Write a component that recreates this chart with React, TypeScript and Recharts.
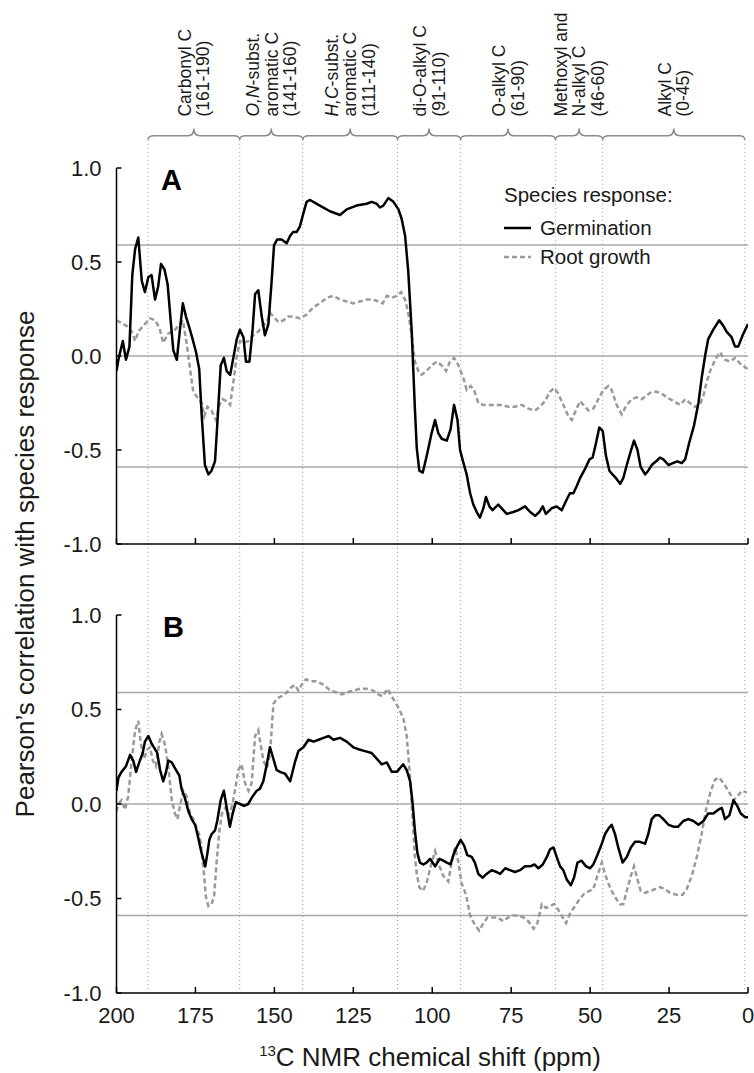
import React from 'react';
import { LineChart, Line, XAxis, YAxis, ReferenceLine, ReferenceArea } from 'recharts';

// [chemical shift (ppm), Pearson's r]
type Pt = [number, number];

// Panel A – germination
const germinationA: Pt[] = [
  [200, -0.08], [199.4, -0.02], [198, 0.08], [197, -0.02], [195.9, 0.05], [195, 0.43], [194.1, 0.57], [193.1, 0.63],
  [192, 0.4], [191, 0.34], [189.9, 0.42], [188.9, 0.43], [187.8, 0.3], [186.8, 0.37], [185.9, 0.49], [184.8, 0.46],
  [183.8, 0.38], [182.8, 0.18], [182, 0.03], [180.9, -0.02], [179.9, 0.14], [179, 0.28], [178, 0.21], [176.9, 0.15],
  [175.9, 0.09], [174.8, 0.02], [173.8, -0.07], [173, -0.32], [172, -0.58], [170.9, -0.63], [169.9, -0.61], [168.8, -0.56],
  [168.1, -0.37], [167, -0.05], [166, -0.01], [165.1, -0.08], [164, -0.1], [163, -0.01], [161.9, 0.09], [160.9, 0.14],
  [159.8, 0.1], [159, -0.03], [157.9, -0.03], [156.9, 0.14], [156.1, 0.33], [155.1, 0.35], [154, 0.21], [153, 0.11],
  [151.9, 0.17], [150.9, 0.39], [150.1, 0.59], [149.1, 0.62], [147.7, 0.62], [146.1, 0.6], [145, 0.64], [144, 0.66],
  [142.9, 0.66], [141.9, 0.69], [140.8, 0.76], [139.8, 0.82], [138.7, 0.83], [135.6, 0.8], [132.4, 0.77], [129.2, 0.75],
  [127.1, 0.78], [124, 0.8], [120.8, 0.81], [119.2, 0.82], [117.6, 0.81], [116.6, 0.79], [115.5, 0.8], [113.9, 0.84],
  [112.3, 0.82], [110.7, 0.78], [109.7, 0.73], [108.6, 0.64], [107.6, 0.45], [106.5, 0.13], [105.5, -0.28], [104.9, -0.49],
  [104.1, -0.61], [103, -0.62], [101.6, -0.52], [100.2, -0.41], [99.1, -0.34], [98.1, -0.41], [97, -0.44], [95.4, -0.45],
  [94.2, -0.39], [93.1, -0.26], [92, -0.34], [91.2, -0.5], [90.1, -0.57], [89.1, -0.63], [88, -0.73], [87, -0.79],
  [85.9, -0.83], [84.9, -0.86], [83.8, -0.81], [83, -0.75], [81.9, -0.8], [80.9, -0.82], [79.1, -0.79], [77.5, -0.82],
  [76.4, -0.84], [74.3, -0.83], [72.7, -0.82], [70.6, -0.8], [69, -0.83], [67.4, -0.85], [66.1, -0.83], [65, -0.8],
  [64, -0.84], [62.2, -0.81], [60.6, -0.8], [59, -0.82], [57.6, -0.77], [56.4, -0.73], [55.3, -0.73], [54.2, -0.69],
  [53.2, -0.65], [51.6, -0.6], [50.2, -0.55], [49.2, -0.54], [48.1, -0.46], [47.1, -0.38], [46, -0.4], [45, -0.53],
  [43.9, -0.61], [42.9, -0.63], [41.8, -0.65], [40.5, -0.68], [39.5, -0.65], [38.4, -0.58], [37.2, -0.51], [36.1, -0.45],
  [35, -0.5], [34, -0.59], [32.6, -0.63], [31.6, -0.61], [30.5, -0.58], [29.1, -0.56], [27.9, -0.54], [26.8, -0.55],
  [25.2, -0.58], [23.8, -0.57], [22.4, -0.56], [21, -0.57], [19.9, -0.55], [18.6, -0.46], [17.1, -0.37], [15.7, -0.25],
  [14.7, -0.12], [13.6, 0], [12.6, 0.09], [11, 0.14], [9.1, 0.19], [7.8, 0.16], [6.8, 0.13], [5.2, 0.1],
  [4.1, 0.05], [3.1, 0.05], [1.7, 0.11], [0, 0.17],
];

// Panel A – root growth
const rootA: Pt[] = [
  [200, 0.19], [198.9, 0.18], [196.8, 0.16], [195.2, 0.13], [194.1, 0.08], [193.1, 0.13], [191.5, 0.16], [189.4, 0.2],
  [187.8, 0.19], [186.4, 0.15], [185.2, 0.07], [183.6, 0.12], [182, 0.13], [180.4, 0.16], [179, 0.19], [177.8, 0.07],
  [176.7, -0.07], [175.7, -0.19], [174.4, -0.22], [173, -0.25], [172.2, -0.32], [171.2, -0.27], [169.9, -0.29], [168.5, -0.34],
  [167.4, -0.26], [166.4, -0.23], [165.1, -0.24], [164, -0.26], [163, -0.14], [161.9, 0], [160.9, 0.08], [159.6, 0.07],
  [158.2, 0.08], [156.7, 0.11], [155.1, 0.13], [153.7, 0.16], [152.4, 0.18], [151.4, 0.23], [150.3, 0.21], [148.7, 0.18],
  [147.1, 0.19], [145.6, 0.21], [144, 0.21], [141.9, 0.2], [139.8, 0.22], [137.6, 0.26], [135.6, 0.28], [133.4, 0.31],
  [131.3, 0.32], [129.2, 0.3], [127.1, 0.29], [125, 0.28], [122.9, 0.29], [120.8, 0.3], [118.7, 0.3], [117.1, 0.29],
  [115.7, 0.28], [114.4, 0.32], [112.8, 0.31], [111.2, 0.32], [109.9, 0.34], [108.6, 0.3], [107.6, 0.23], [106.5, 0.11],
  [105.5, -0.03], [104.4, -0.08], [103.4, -0.1], [101.8, -0.08], [100.2, -0.05], [98.6, -0.03], [97, -0.05], [95.6, -0.08],
  [94.4, -0.03], [93.1, -0.01], [91.7, -0.05], [90.1, -0.12], [89.1, -0.18], [87.8, -0.16], [86.8, -0.18], [85.4, -0.25],
  [83.8, -0.26], [82.2, -0.26], [80.1, -0.26], [78, -0.26], [75.9, -0.27], [73.8, -0.27], [71.7, -0.26], [69.6, -0.28],
  [67.5, -0.29], [65.9, -0.27], [64.3, -0.24], [62.7, -0.19], [61.4, -0.17], [60.1, -0.2], [58.5, -0.26], [56.9, -0.32],
  [55.8, -0.34], [54.8, -0.3], [53.2, -0.24], [51.6, -0.27], [50.5, -0.29], [49, -0.28], [47.4, -0.23], [45.8, -0.18],
  [44.2, -0.16], [43.2, -0.18], [41.6, -0.26], [40, -0.31], [38.4, -0.26], [36.8, -0.23], [35.3, -0.22], [33.7, -0.23],
  [32.1, -0.21], [30.5, -0.19], [28.9, -0.19], [27.3, -0.2], [25.7, -0.22], [23.6, -0.24], [21.5, -0.26], [19.9, -0.23],
  [18.4, -0.25], [16.8, -0.27], [15.2, -0.26], [14.1, -0.21], [13.1, -0.14], [12, -0.08], [10.4, -0.02], [8.9, 0.02],
  [7.3, -0.02], [5.7, -0.03], [4.1, -0.01], [2.5, -0.04], [0.9, -0.06], [0, -0.07],
];

// Panel B – germination
const germinationB: Pt[] = [
  [200, 0.07], [199.4, 0.14], [198.4, 0.17], [197, 0.2], [195.7, 0.26], [194.7, 0.23], [193.8, 0.17], [192.8, 0.22],
  [191.7, 0.27], [191, 0.33], [189.9, 0.36], [188.9, 0.32], [187.8, 0.29], [187.1, 0.27], [186.2, 0.18], [185.2, 0.12],
  [184.3, 0.17], [183.6, 0.23], [182.5, 0.22], [181.5, 0.19], [180.1, 0.15], [179.4, 0.08], [178.3, 0.03], [177.2, -0.04],
  [176.2, -0.08], [175.1, -0.11], [174.1, -0.18], [173.2, -0.25], [171.9, -0.33], [171.2, -0.26], [170.6, -0.19], [169.9, -0.16],
  [168.8, -0.14], [168.1, -0.09], [167, 0.02], [166, 0.07], [164.9, -0.04], [164.1, -0.12], [163.2, -0.05], [162.2, 0.01],
  [160.9, 0], [159.6, -0.01], [158.3, 0], [156.9, 0.04], [155.6, 0.07], [154.6, 0.08], [153.5, 0.12], [152.4, 0.21],
  [151.4, 0.3], [150.5, 0.25], [149.3, 0.18], [148.2, 0.17], [146.6, 0.16], [145, 0.12], [143.5, 0.22], [142.4, 0.28],
  [140.8, 0.3], [139.2, 0.34], [137.6, 0.33], [136, 0.34], [134.4, 0.35], [132.8, 0.36], [131.3, 0.34], [129.2, 0.35],
  [127.1, 0.33], [125, 0.3], [123.4, 0.29], [121.3, 0.28], [119.2, 0.27], [117.6, 0.24], [116, 0.21], [114.4, 0.22],
  [112.8, 0.17], [111.2, 0.17], [110.2, 0.19], [109.2, 0.21], [108.1, 0.18], [107, 0.12], [106.2, 0], [105.5, -0.14],
  [104.7, -0.26], [103.9, -0.31], [102.8, -0.32], [101.8, -0.31], [100.7, -0.29], [99.1, -0.33], [97.7, -0.29], [96.5, -0.3],
  [95.4, -0.31], [94.2, -0.32], [93.1, -0.26], [92, -0.22], [91, -0.19], [89.9, -0.22], [88.9, -0.27], [87.5, -0.28],
  [86.5, -0.31], [85.4, -0.37], [84, -0.39], [82.8, -0.37], [81.2, -0.35], [79.6, -0.36], [78.5, -0.37], [76.9, -0.34],
  [75.4, -0.35], [73.8, -0.36], [72.2, -0.35], [70.6, -0.33], [69, -0.33], [67.6, -0.32], [66.4, -0.34], [65, -0.32],
  [63.7, -0.28], [62.7, -0.24], [61.6, -0.23], [60.6, -0.28], [59.5, -0.33], [58.5, -0.35], [57.4, -0.4], [56.1, -0.43],
  [55.1, -0.39], [54, -0.31], [52.7, -0.3], [51.3, -0.33], [50, -0.34], [49, -0.32], [47.7, -0.27], [46.3, -0.21],
  [45.3, -0.16], [44.2, -0.13], [43.2, -0.11], [42.1, -0.16], [41.1, -0.23], [39.7, -0.31], [38.4, -0.28], [37.1, -0.23],
  [35.8, -0.2], [34.2, -0.2], [32.6, -0.21], [31.6, -0.16], [30.5, -0.08], [29.4, -0.06], [28.1, -0.06], [26.8, -0.08],
  [25.2, -0.11], [23.6, -0.12], [22.1, -0.12], [20.5, -0.09], [18.9, -0.08], [17.3, -0.09], [15.7, -0.11], [14.1, -0.09],
  [12.6, -0.05], [11, -0.05], [9.4, -0.03], [8.3, -0.02], [7.3, -0.08], [5.9, -0.06], [4.6, 0.02], [3.4, -0.01],
  [2.3, -0.05], [0.9, -0.07], [0, -0.07],
];

// Panel B – root growth
const rootB: Pt[] = [
  [200, -0.04], [199.4, 0], [198.4, 0.02], [197.3, -0.03], [196.3, 0.04], [195.2, 0.23], [194.1, 0.39], [193.1, 0.44],
  [192.3, 0.32], [191.3, 0.24], [190.2, 0.29], [189.4, 0.3], [188.5, 0.23], [187.5, 0.2], [186.4, 0.33], [185.7, 0.37],
  [184.6, 0.31], [183.6, 0.2], [182.5, 0.02], [181.5, -0.05], [180.7, -0.08], [179.9, -0.01], [178.8, 0.07], [177.8, 0.04],
  [176.7, -0.05], [175.7, -0.08], [174.6, -0.13], [173.6, -0.17], [172.5, -0.33], [171.7, -0.49], [170.9, -0.54], [169.9, -0.53],
  [169.1, -0.49], [168.3, -0.31], [167.4, -0.14], [166.6, -0.05], [165.5, -0.02], [164.5, -0.06], [163.4, -0.01], [162.5, 0.07],
  [161.4, 0.18], [160.4, 0.21], [159.3, 0.11], [158.2, 0.07], [157.2, 0.11], [156.1, 0.36], [155.1, 0.39], [154.2, 0.3],
  [153.5, 0.23], [152.4, 0.19], [151.4, 0.26], [150.3, 0.53], [149.1, 0.56], [147.7, 0.57], [146.1, 0.59], [144.5, 0.62],
  [143.5, 0.63], [142.4, 0.6], [141.4, 0.63], [140, 0.66], [138.7, 0.65], [136.6, 0.65], [134.4, 0.63], [132.3, 0.6],
  [130.2, 0.59], [128.6, 0.58], [127.1, 0.59], [125, 0.6], [122.9, 0.61], [120.8, 0.61], [118.7, 0.6], [117.1, 0.58],
  [115.7, 0.57], [114.2, 0.61], [112.5, 0.56], [110.7, 0.51], [109.1, 0.45], [108.1, 0.36], [107, 0.14], [106, -0.14],
  [105.5, -0.28], [104.9, -0.37], [104.1, -0.44], [103, -0.46], [101.8, -0.42], [100.5, -0.33], [99.1, -0.25], [97.7, -0.33],
  [96.5, -0.38], [94.9, -0.41], [93.8, -0.3], [92.8, -0.23], [91.7, -0.31], [90.7, -0.42], [89.3, -0.48], [88, -0.59],
  [86.5, -0.64], [85.1, -0.67], [83.8, -0.63], [82.5, -0.6], [81.2, -0.6], [79.4, -0.6], [77.5, -0.62], [75.9, -0.6],
  [74.3, -0.59], [72.7, -0.59], [71.1, -0.6], [69.6, -0.62], [67.9, -0.66], [66.7, -0.63], [65.3, -0.53], [64, -0.55],
  [62.7, -0.54], [61.4, -0.53], [60.1, -0.56], [58.7, -0.6], [57.6, -0.63], [56.4, -0.58], [54.8, -0.54], [53.2, -0.5],
  [51.6, -0.47], [50.2, -0.46], [49, -0.45], [47.7, -0.38], [46.3, -0.31], [45.3, -0.37], [44.2, -0.42], [43.2, -0.46],
  [41.8, -0.5], [40.5, -0.53], [39.5, -0.53], [38.4, -0.46], [37.1, -0.38], [36.1, -0.33], [35, -0.4], [34, -0.46],
  [32.6, -0.47], [31, -0.46], [29.4, -0.45], [27.9, -0.44], [26.3, -0.45], [24.7, -0.47], [22.6, -0.48], [20.7, -0.48],
  [19.4, -0.45], [17.8, -0.38], [16.2, -0.28], [14.7, -0.16], [13.3, -0.03], [11.8, 0.07], [10.4, 0.13], [9.1, 0.14],
  [7.8, 0.11], [6.2, 0.07], [4.6, 0.02], [3.4, 0.04], [2, 0.07], [0.4, 0.06],
];

const xTicks = [200, 175, 150, 125, 100, 75, 50, 25, 0];
const yTicks = [1, 0.5, 0, -0.5, -1];
// significance threshold for r (drawn as grey lines at ±r)
const critical = 0.59;
// region boundaries (ppm)
const boundaries = [190, 161, 141, 111, 91, 61, 46, 1];

type Seg = { t: string; i?: boolean };
type Region = { from: number; to: number; lines: Seg[][] };
const regions: Region[] = [
  { from: 190, to: 161, lines: [[{ t: 'Carbonyl C' }], [{ t: '(161-190)' }]] },
  { from: 161, to: 141, lines: [[{ t: 'O,N', i: true }, { t: '-subst.' }], [{ t: 'aromatic C' }], [{ t: '(141-160)' }]] },
  { from: 141, to: 111, lines: [[{ t: 'H,C', i: true }, { t: '-subst.' }], [{ t: 'aromatic C' }], [{ t: '(111-140)' }]] },
  { from: 111, to: 91, lines: [[{ t: 'di-O-alkyl C' }], [{ t: '(91-110)' }]] },
  { from: 91, to: 61, lines: [[{ t: 'O-alkyl C' }], [{ t: '(61-90)' }]] },
  { from: 61, to: 46, lines: [[{ t: 'Methoxyl and' }], [{ t: 'N-alkyl C' }], [{ t: '(46-60)' }]] },
  { from: 46, to: 1, lines: [[{ t: 'Alkyl C' }], [{ t: '(0-45)' }]] },
];

const FONT = '"Liberation Sans", Arial, Helvetica, sans-serif';
const INK = '#1a1a1a';
const GERM_COLOR = '#000000';
const ROOT_COLOR = '#9a9a9a';
const ROOT_DASH = '5 3';

const toRows = (pts: Pt[]) => pts.map(([ppm, r]) => ({ ppm, r }));

const W = 754;
const H = 1073;

const YTick = (props: any) => {
  const { x, y, payload } = props;
  return (
    <g>
      <line x1={x} x2={x + 5} y1={y} y2={y} stroke="#000" strokeWidth={1.5} />
      <text x={x - 15} y={y} dy="0.36em" textAnchor="end" fontSize={22} fontFamily={FONT} fill={INK}>
        {Number(payload.value).toFixed(1)}
      </text>
    </g>
  );
};

const makeXTick = (showLabel: boolean) => (props: any) => {
  const { x, y, payload } = props;
  return (
    <g>
      <line x1={x} x2={x} y1={y} y2={y - 6} stroke="#000" strokeWidth={1.5} />
      {showLabel && (
        <text x={x} y={y + 22} dy="0.36em" textAnchor="middle" fontSize={22} fontFamily={FONT} fill={INK}>
          {payload.value}
        </text>
      )}
    </g>
  );
};

// curly brace over a chemical-shift region, with its rotated label
const BraceShape = (props: any) => {
  const { x, y, width, height, region } = props;
  const left = x;
  const right = x + width;
  const tip = x + width / 2;
  const bottom = y + height;
  const arm = bottom - 4;
  const top = y;
  const d =
    `M${left},${bottom} Q${left},${arm} ${left + 6},${arm} L${tip - 6},${arm} ` +
    `Q${tip},${arm} ${tip},${top} Q${tip},${arm} ${tip + 6},${arm} ` +
    `L${right - 6},${arm} Q${right},${arm} ${right},${bottom}`;
  const n = region.lines.length;
  const gap = 18.5;
  return (
    <g>
      <path d={d} fill="none" stroke="#8c8c8c" strokeWidth={1.5} />
      {region.lines.map((segs: Seg[], i: number) => {
        const cx = tip + (i - (n - 1) / 2) * gap;
        return (
          <text
            key={i}
            transform={`translate(${cx},${top - 12}) rotate(-90)`}
            x={0}
            y={0}
            dy="0.36em"
            textAnchor="start"
            fontSize={17.5}
            fontFamily={FONT}
            fill={INK}
          >
            {segs.map((s, k) => (
              <tspan key={k} fontStyle={s.i ? 'italic' : 'normal'}>
                {s.t}
              </tspan>
            ))}
          </text>
        );
      })}
    </g>
  );
};

const Panel = ({
  germ,
  root,
  top,
  bottom,
  showXLabels,
  showRegions,
}: {
  germ: Pt[];
  root: Pt[];
  top: number;
  bottom: number;
  showXLabels: boolean;
  showRegions: boolean;
}) => (
  <div style={{ position: 'absolute', left: 0, top: 0, width: W, height: H }}>
    <LineChart width={W} height={H} margin={{ top, right: 6, bottom: H - bottom - 30, left: 56.5 }}>
      <XAxis
        dataKey="ppm"
        type="number"
        domain={[0, 200]}
        reversed
        ticks={xTicks}
        interval={0}
        allowDataOverflow
        height={30}
        tickSize={0}
        tickMargin={0}
        tickLine={false}
        axisLine={{ stroke: '#000', strokeWidth: 1.5 }}
        tick={makeXTick(showXLabels)}
      />
      <YAxis
        type="number"
        domain={[-1, 1]}
        ticks={yTicks}
        interval={0}
        allowDataOverflow
        width={60}
        tickSize={0}
        tickMargin={0}
        tickLine={false}
        axisLine={{ stroke: '#000', strokeWidth: 1.5 }}
        tick={YTick}
      />
      <ReferenceLine y={critical} stroke="#a8a8a8" strokeWidth={1.5} />
      <ReferenceLine y={0} stroke="#a8a8a8" strokeWidth={1.5} />
      <ReferenceLine y={-critical} stroke="#a8a8a8" strokeWidth={1.5} />
      {boundaries.map((b) =>
        showRegions ? (
          <ReferenceLine
            key={`b${b}`}
            segment={[
              { x: b, y: 1.15 },
              { x: b, y: -1.38 },
            ]}
            ifOverflow="visible"
            stroke="#9a9a9a"
            strokeWidth={1}
            strokeDasharray="1 3"
          />
        ) : (
          <ReferenceLine key={`b${b}`} x={b} stroke="#9a9a9a" strokeWidth={1} strokeDasharray="1 3" />
        ),
      )}
      {showRegions &&
        regions.map((rg) => (
          <ReferenceArea
            key={`r${rg.from}`}
            x1={rg.from}
            x2={rg.to}
            y1={1.15}
            y2={1.21}
            ifOverflow="visible"
            shape={(p: any) => <BraceShape {...p} region={rg} />}
          />
        ))}
      <Line
        data={toRows(root)}
        dataKey="r"
        name="Root growth"
        stroke={ROOT_COLOR}
        strokeWidth={2.5}
        strokeDasharray={ROOT_DASH}
        dot={false}
        activeDot={false}
        isAnimationActive={false}
      />
      <Line
        data={toRows(germ)}
        dataKey="r"
        name="Germination"
        stroke={GERM_COLOR}
        strokeWidth={2.5}
        strokeLinejoin="round"
        dot={false}
        activeDot={false}
        isAnimationActive={false}
      />
    </LineChart>
  </div>
);

export default function App() {
  return (
    <div style={{ position: 'absolute', left: 0, top: 0, width: W, height: H, background: '#fff', overflow: 'hidden' }}>
      <Panel germ={germinationA} root={rootA} top={168} bottom={544} showXLabels={false} showRegions />
      <Panel germ={germinationB} root={rootB} top={615} bottom={993} showXLabels showRegions={false} />
      <svg
        width={W}
        height={H}
        style={{ position: 'absolute', left: 0, top: 0, pointerEvents: 'none' }}
        fontFamily={FONT}
      >
        <text x={161} y={190} fontSize={29} fontWeight="bold" fill="#000">A</text>
        <text x={163} y={637} fontSize={29} fontWeight="bold" fill="#000">B</text>

        <text transform="translate(34,564) rotate(-90)" textAnchor="middle" fontSize={26} fill={INK}>
          Pearson’s correlation with species response
        </text>
        <text x={430} y={1066} textAnchor="middle" fill={INK}>
          <tspan fontSize={15} dy={-10}>13</tspan>
          <tspan fontSize={26} dy={10}>C NMR chemical shift (ppm)</tspan>
        </text>

        <text x={504} y={202} fontSize={20.5} fill={INK}>Species response:</text>
        <line x1={504} x2={531} y1={228} y2={228} stroke={GERM_COLOR} strokeWidth={2.5} />
        <text x={540} y={235} fontSize={20.5} fill={INK}>Germination</text>
        <line x1={504} x2={531} y1={257} y2={257} stroke={ROOT_COLOR} strokeWidth={2.5} strokeDasharray={ROOT_DASH} />
        <text x={540} y={264} fontSize={20.5} fill={INK}>Root growth</text>
      </svg>
    </div>
  );
}
